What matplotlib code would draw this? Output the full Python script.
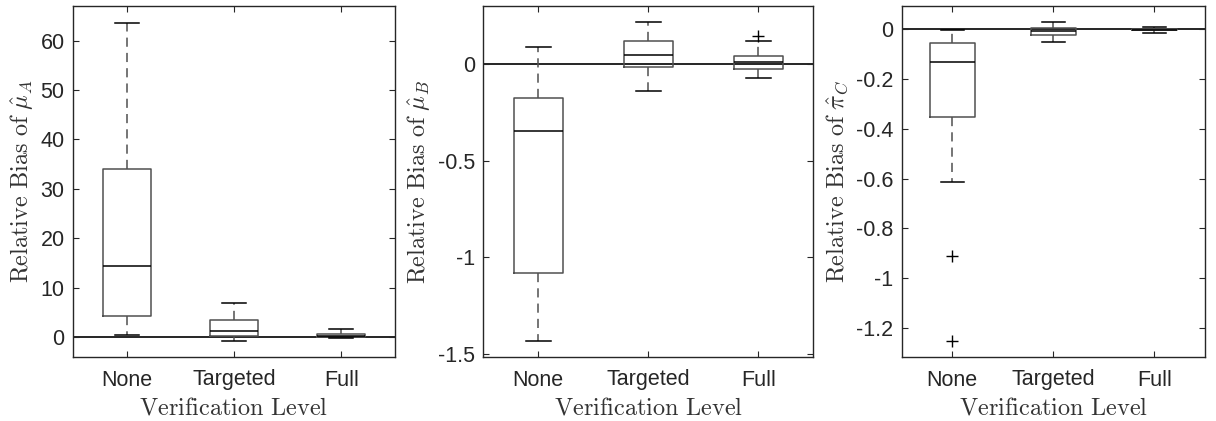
import matplotlib
matplotlib.use("Agg")
import matplotlib.pyplot as plt

plt.rcParams['mathtext.fontset'] = 'cm'
plt.rcParams['font.family'] = ['Liberation Sans', 'DejaVu Sans']

categories = ["None", "Targeted", "Full"]

# Panel A: relative bias of mu_A
a_whislo = [0.4, -0.75, -0.2]
a_q1 = [4.3, 0.26, 0.1]
a_med = [14.5, 1.2, 0.3]
a_q3 = [34.0, 3.5, 0.7]
a_whishi = [63.6, 6.9, 1.6]
a_fliers = [[], [], []]

# Panel B: relative bias of mu_B
b_whislo = [-1.432, -0.139, -0.074]
b_q1 = [-1.081, -0.017, -0.024]
b_med = [-0.348, 0.045, 0.010]
b_q3 = [-0.174, 0.120, 0.041]
b_whishi = [0.086, 0.215, 0.117]
b_fliers = [[], [], [0.146]]

# Panel C: relative bias of pi_C
c_whislo = [-0.615, -0.052, -0.016]
c_q1 = [-0.351, -0.023, -0.004]
c_med = [-0.133, -0.007, -0.001]
c_q3 = [-0.056, 0.005, 0.002]
c_whishi = [-0.004, 0.028, 0.008]
c_fliers = [[-0.912, -1.255], [], []]

ylabels = [r"$\mathrm{Relative\ Bias\ of\ }\hat{\mu}_A$",
           r"$\mathrm{Relative\ Bias\ of\ }\hat{\mu}_B$",
           r"$\mathrm{Relative\ Bias\ of\ }\hat{\pi}_C$"]
ylims = [(-4.0, 67.0), (-1.515, 0.30), (-1.318, 0.094)]
yticks = [[0, 10, 20, 30, 40, 50, 60], [-1.5, -1, -0.5, 0],
          [-1.2, -1, -0.8, -0.6, -0.4, -0.2, 0]]
yticklabels = [["0", "10", "20", "30", "40", "50", "60"],
               ["-1.5", "-1", "-0.5", "0"],
               ["-1.2", "-1", "-0.8", "-0.6", "-0.4", "-0.2", "0"]]

panels = [
    (a_whislo, a_q1, a_med, a_q3, a_whishi, a_fliers),
    (b_whislo, b_q1, b_med, b_q3, b_whishi, b_fliers),
    (c_whislo, c_q1, c_med, c_q3, c_whishi, c_fliers),
]

W, H = 1216, 421
fig = plt.figure(figsize=(W / 100, H / 100), dpi=100)
rects = [(73, 395), (483.3, 813.3), (901.7, 1205)]
top_px, bot_px = 6, 357

dark = "#262626"
boxgray = "#505050"

for i, (rect, data) in enumerate(zip(rects, panels)):
    l, r = rect
    ax = fig.add_axes([l / W, (H - bot_px) / H, (r - l) / W, (bot_px - top_px) / H])
    wl, q1, md, q3, wh, fl = data
    stats = []
    for j in range(3):
        stats.append(dict(med=md[j], q1=q1[j], q3=q3[j], whislo=wl[j],
                          whishi=wh[j], fliers=fl[j], label=categories[j]))
    ax.axhline(0, color="black", lw=1.2, zorder=1)
    ax.bxp(stats, positions=[1, 2, 3], widths=0.45, showfliers=True,
           boxprops=dict(color=boxgray, lw=1.1),
           medianprops=dict(color="black", lw=1.1),
           whiskerprops=dict(color=boxgray, lw=1.1, linestyle=(0, (6, 4))),
           capprops=dict(color="black", lw=1.1),
           capwidths=0.225,
           flierprops=dict(marker="+", markeredgecolor="black", markersize=8,
                           linestyle="none", markeredgewidth=1.0))
    ax.set_xlim(0.5, 3.5)
    ax.set_ylim(*ylims[i])
    ax.set_yticks(yticks[i])
    ax.set_yticklabels(yticklabels[i])
    ax.set_xticks([1, 2, 3])
    ax.set_xticklabels(categories)
    ax.tick_params(direction="in", length=4, width=0.8, colors=dark,
                   labelsize=15.5, top=True, right=True, pad=6)
    ax.tick_params(axis="x", pad=9)
    for s in ax.spines.values():
        s.set_color(dark)
        s.set_linewidth(1.0)
    ax.set_ylabel(ylabels[i], fontsize=17.5, color="#333333", labelpad=4)
    ax.set_xlabel(r"$\mathrm{Verification\ Level}$", fontsize=17.5,
                  color="#333333", labelpad=5)

fig.savefig("out.png", dpi=100)
